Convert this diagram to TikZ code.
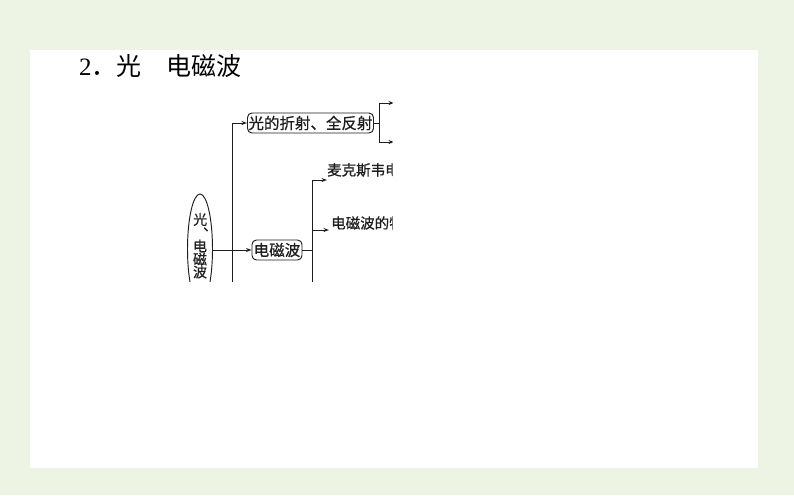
\documentclass[tikz,border=0pt]{standalone}
\usepackage{fontspec}
\newfontfamily\cjk{Noto Sans CJK SC}
\newfontfamily\cjkb[FakeBold=0.8]{Noto Sans CJK SC}
\newfontfamily\serifnum{Liberation Serif}
\usetikzlibrary{arrows.meta,shapes.geometric}
\definecolor{bg}{RGB}{238,244,228}
\definecolor{ink}{RGB}{30,30,30}
\begin{document}
\begin{tikzpicture}[x=1pt,y=-1pt,
  conn/.style={draw=ink, line width=0.95pt},
  arr/.style={conn, -{Stealth[length=5.5pt,width=4pt]}},
  box/.style={draw=ink, line width=0.95pt, rounded corners=4.5pt, inner xsep=1pt, inner ysep=1pt, font=\cjkb\fontsize{15.5}{15.5}\selectfont, text=ink, minimum height=20pt},
  lbl/.style={font=\cjkb\fontsize{14.5}{14.5}\selectfont, inner sep=0pt, anchor=west, text=ink},
  etxt/.style={font=\cjkb\fontsize{14}{14}\selectfont, inner sep=0pt, text=ink},
  ]
\fill[bg] (0,0) rectangle (794,495);
\fill[white] (30,50) rectangle (758,468);
\useasboundingbox (0,0) rectangle (794,495);
\node[anchor=west, inner sep=0pt, font=\fontsize{25}{25}\selectfont] (title) at (79,66) {{\serifnum 2}{\cjk ．光　电磁波}};
\begin{scope}
\clip (175,95) rectangle (392.5,281);
\node[draw=ink, ellipse, minimum width=25pt, minimum height=110pt, inner sep=0pt, line width=0.95pt] (root) at (200,249) {};
\node[etxt, anchor=base west] (c1) at (193,224.8) {光\kern-4pt\raisebox{-5.8pt}{、}};
\node[etxt] (c3) at (200,246) {电};
\node[etxt] (c4) at (200,259) {磁};
\node[etxt] (c5) at (200,272) {波};
\node[box, minimum width=117pt] (b1) at (310.5,123) {光的折射、全反射};
\node[box, minimum width=50pt] (b2) at (277,250) {电磁波};
\coordinate (v1top) at (232,123);
\coordinate (v1bot) at (232,400);
\draw[conn] (v1top) -- (v1bot);
\draw[arr] (v1top) -- (b1.west);
\draw[arr] (root.east |- b2.west) -- (b2.west);
\coordinate (t1) at (379,103);
\coordinate (t2) at (379,142);
\coordinate (e1) at (394,103);
\coordinate (e2) at (394,142);
\draw[conn] (t1) -- (t2);
\draw[conn] (b1.east) -- (b1.east -| t1);
\draw[arr] (t1) -- (e1);
\draw[arr] (t2) -- (e2);
\coordinate (u1) at (312,180);
\coordinate (u2) at (312,400);
\coordinate (u3) at (312,230);
\coordinate (a1) at (327,180);
\coordinate (a2) at (329,230);
\draw[conn] (u1) -- (u2);
\draw[conn] (b2.east) -- (b2.east -| u1);
\draw[arr] (u1) -- (a1);
\draw[arr] (u3) -- (a2);
\node[lbl] (m1) at (327,170) {麦克斯韦电};
\node[lbl] (m2) at (331,223) {电磁波的特};
\end{scope}
\end{tikzpicture}
\end{document}
